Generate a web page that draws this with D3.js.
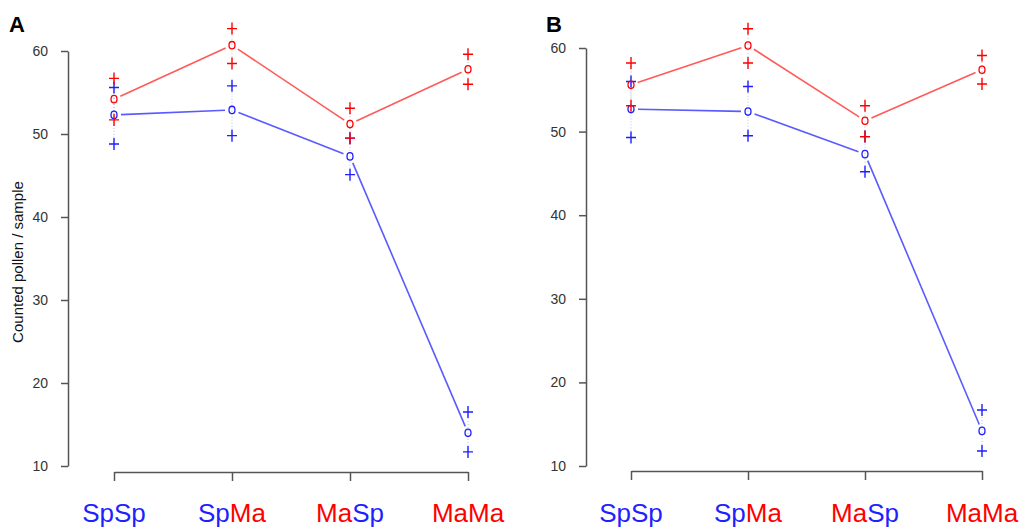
<!DOCTYPE html>
<html>
<head>
<meta charset="utf-8">
<script src="https://cdn.jsdelivr.net/npm/d3@7"></script>
<style>
  body { margin: 0; background: #fff; }
  svg { display: block; font-family: Arial, "Liberation Sans", sans-serif; }
</style>
</head>
<body>
<svg id="chart" width="1026" height="529"></svg>
<script>
// crosses
const categories = ["SpSp", "SpMa", "MaSp", "MaMa"];
const yTicks = [10, 20, 30, 40, 50, 60];

// panel A
const aRedMean  = [54.2, 60.7, 51.2, 57.8];
const aRedUpper = [56.7, 62.7, 53.1, 59.6];
const aRedLower = [51.7, 58.5, 49.5, 56.0];
const aBlueMean  = [52.3, 52.9, 47.3, 14.0];
const aBlueUpper = [55.6, 55.8, 49.5, 16.5];
const aBlueLower = [48.8, 49.8, 45.1, 11.7];

// panel B
const bRedMean  = [55.6, 60.3, 51.3, 57.4];
const bRedUpper = [58.2, 62.3, 53.1, 59.1];
const bRedLower = [53.1, 58.2, 49.4, 55.7];
const bBlueMean  = [52.7, 52.4, 47.3, 14.2];
const bBlueUpper = [56.0, 55.4, 49.4, 16.7];
const bBlueLower = [49.3, 49.5, 45.2, 11.8];

const RED = "#ff0000", BLUE = "#1f1fff";
const RED_LINE = "#ff5a5a", BLUE_LINE = "#5a5aff";

const svg = d3.select("#chart");

function drawPanel(opt) {
  const x = d3.scalePoint().domain(categories).range(opt.xRange);
  const y = d3.scaleLinear().domain([10, 60]).range(opt.yRange);
  const g = svg.append("g");

  // panel letter
  g.append("text")
    .attr("x", opt.letterX).attr("y", 32)
    .attr("font-size", 22).attr("font-weight", "bold")
    .text(opt.letter);

  // y axis (R style, detached)
  const yAxis = g.append("g")
    .attr("transform", `translate(${opt.axisX},0)`)
    .call(d3.axisLeft(y).tickValues(yTicks).tickSize(7).tickPadding(13).tickSizeOuter(0));
  yAxis.select(".domain").attr("stroke", "#555").attr("stroke-width", 1.5);
  yAxis.selectAll(".tick line").attr("stroke", "#555").attr("stroke-width", 1.5);
  yAxis.selectAll(".tick text").attr("font-size", 14).attr("fill", "#333")
    .attr("font-family", "Arial, 'Liberation Sans', sans-serif");

  // x axis
  const xAxis = g.append("g")
    .attr("transform", `translate(0,${opt.xAxisY})`)
    .call(d3.axisBottom(x).tickSize(9).tickSizeOuter(0).tickFormat(""));
  xAxis.select(".domain").attr("stroke", "#555").attr("stroke-width", 1.5);
  xAxis.selectAll(".tick line").attr("stroke", "#555").attr("stroke-width", 1.5);

  // two-coloured category labels
  categories.forEach(c => {
    const t = g.append("text")
      .attr("x", x(c)).attr("y", 522)
      .attr("text-anchor", "middle")
      .attr("font-size", 26);
    [c.slice(0, 2), c.slice(2)].forEach(part => {
      t.append("tspan").attr("fill", part === "Sp" ? BLUE : RED).text(part);
    });
  });

  const series = [
    { mean: opt.blueMean, up: opt.blueUpper, lo: opt.blueLower, col: BLUE, line: BLUE_LINE },
    { mean: opt.redMean,  up: opt.redUpper,  lo: opt.redLower,  col: RED,  line: RED_LINE }
  ];

  series.forEach(s => {
    // faint dotted spread lines
    g.selectAll(null)
      .data(categories)
      .enter().append("line")
      .attr("x1", c => x(c)).attr("x2", c => x(c))
      .attr("y1", (c, i) => y(s.lo[i])).attr("y2", (c, i) => y(s.up[i]))
      .attr("stroke", "#7fa3c8").attr("stroke-width", 1)
      .attr("stroke-dasharray", "1,2").attr("opacity", 0.6);

    // connecting segments with gaps round the points
    const pts = categories.map((c, i) => [x(c), y(s.mean[i])]);
    const gap = 7;
    for (let i = 0; i < pts.length - 1; i++) {
      const [x1, y1] = pts[i], [x2, y2] = pts[i + 1];
      const len = Math.hypot(x2 - x1, y2 - y1);
      const ux = (x2 - x1) / len, uy = (y2 - y1) / len;
      g.append("line")
        .attr("x1", x1 + ux * gap).attr("y1", y1 + uy * gap)
        .attr("x2", x2 - ux * gap).attr("y2", y2 - uy * gap)
        .attr("stroke", s.line).attr("stroke-width", 1.6);
    }
  });

  series.forEach(s => {
    // mean markers
    g.selectAll(null)
      .data(categories)
      .enter().append("ellipse")
      .attr("cx", c => x(c)).attr("cy", (c, i) => y(s.mean[i]))
      .attr("rx", 3).attr("ry", 3.7)
      .attr("fill", "none").attr("stroke", s.col).attr("stroke-width", 1.3);

    // upper / lower plus markers
    const plus = [];
    categories.forEach((c, i) => {
      plus.push([x(c), y(s.up[i])]);
      plus.push([x(c), y(s.lo[i])]);
    });
    g.selectAll(null)
      .data(plus)
      .enter().append("path")
      .attr("d", d => `M${d[0] - 5},${d[1]}H${d[0] + 5}M${d[0]},${d[1] - 6}V${d[1] + 6}`)
      .attr("stroke", s.col).attr("stroke-width", 1.4).attr("fill", "none");
  });

  if (opt.yTitle) {
    g.append("text")
      .attr("transform", `translate(23,${opt.titleY}) rotate(-90)`)
      .attr("text-anchor", "middle")
      .attr("font-size", 15).attr("fill", "#111")
      .text(opt.yTitle);
  }
}

drawPanel({
  letter: "A", letterX: 9,
  xRange: [114, 468], yRange: [466, 51],
  axisX: 68, xAxisY: 472,
  redMean: aRedMean, redUpper: aRedUpper, redLower: aRedLower,
  blueMean: aBlueMean, blueUpper: aBlueUpper, blueLower: aBlueLower,
  yTitle: "Counted pollen / sample", titleY: 262
});

drawPanel({
  letter: "B", letterX: 546,
  xRange: [631, 982], yRange: [466, 48],
  axisX: 586, xAxisY: 471,
  redMean: bRedMean, redUpper: bRedUpper, redLower: bRedLower,
  blueMean: bBlueMean, blueUpper: bBlueUpper, blueLower: bBlueLower
});
</script>
</body>
</html>
